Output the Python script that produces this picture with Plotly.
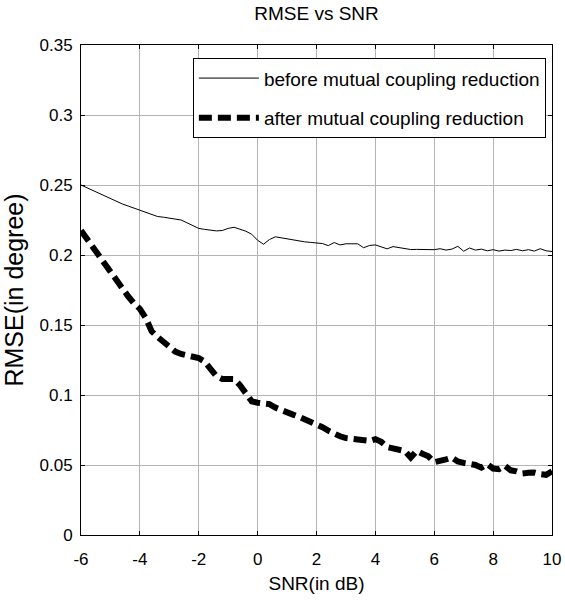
import plotly.graph_objects as go

snr = [round(-6 + 0.2 * i, 1) for i in range(81)]

rmse_before = [
    0.2500, 0.2480, 0.2460, 0.2440, 0.2420, 0.2400, 0.2380, 0.2365, 0.2350, 0.2335,
    0.2320, 0.2305, 0.2285, 0.2275, 0.2270, 0.2262, 0.2256, 0.2250, 0.2230, 0.2210,
    0.2190, 0.2183, 0.2178, 0.2172, 0.2175, 0.2190, 0.2198, 0.2185, 0.2170, 0.2148,
    0.2105, 0.2077, 0.2110, 0.2130, 0.2122, 0.2115, 0.2105, 0.2098, 0.2094, 0.2090,
    0.2085, 0.2082, 0.2067, 0.2089, 0.2072, 0.2080, 0.2080, 0.2080, 0.2052, 0.2068,
    0.2072, 0.2058, 0.2044, 0.2060, 0.2052, 0.2045, 0.2039, 0.2040, 0.2039, 0.2040,
    0.2038, 0.2045, 0.2035, 0.2042, 0.2062, 0.2027, 0.2050, 0.2035, 0.2042, 0.2030,
    0.2038, 0.2028, 0.2035, 0.2032, 0.2040, 0.2030, 0.2038, 0.2028, 0.2045, 0.2030,
    0.2025,
]

rmse_after = [
    0.2175, 0.2115, 0.2050, 0.1990, 0.1930, 0.1876, 0.1820, 0.1760, 0.1705, 0.1655,
    0.1615, 0.1550, 0.1455, 0.1415, 0.1380, 0.1345, 0.1310, 0.1293, 0.1280, 0.1272,
    0.1264, 0.1238, 0.1190, 0.1135, 0.1115, 0.1112, 0.1114, 0.1070, 0.1010, 0.0955,
    0.0945, 0.0942, 0.0935, 0.0910, 0.0890, 0.0875, 0.0860, 0.0845, 0.0828, 0.0812,
    0.0790, 0.0770, 0.0745, 0.0722, 0.0705, 0.0692, 0.0685, 0.0680, 0.0675, 0.0672,
    0.0685, 0.0665, 0.0628, 0.0620, 0.0615, 0.0600, 0.0553, 0.0601, 0.0580, 0.0562,
    0.0520, 0.0527, 0.0540, 0.0553, 0.0525, 0.0515, 0.0512, 0.0500, 0.0481, 0.0506,
    0.0475, 0.0470, 0.0494, 0.0462, 0.0455, 0.0440, 0.0445, 0.0446, 0.0435, 0.0430,
    0.0455,
]

x_ticks = [-6, -4, -2, 0, 2, 4, 6, 8, 10]
x_tick_labels = ["-6", "-4", "-2", "0", "2", "4", "6", "8", "10"]
y_ticks = [0, 0.05, 0.1, 0.15, 0.2, 0.25, 0.3, 0.35]
y_tick_labels = ["0", "0.05", "0.1", "0.15", "0.2", "0.25", "0.3", "0.35"]

FONT = "Liberation Sans, Arial, sans-serif"

fig = go.Figure()
fig.add_trace(go.Scatter(
    x=snr, y=rmse_before, mode="lines",
    name="before mutual coupling reduction", legendgroup="a",
    line=dict(color="black", width=1),
))
fig.add_trace(go.Scatter(
    x=snr, y=rmse_after, mode="lines",
    name="after mutual coupling reduction", legendgroup="b",
    line=dict(color="black", width=6, dash="13px,6px"),
))

axis_common = dict(
    showline=True, linecolor="black", linewidth=1, mirror="ticks",
    ticks="inside", ticklen=4, tickcolor="black",
    showgrid=True, gridcolor="#b4b4b4", gridwidth=1,
    zeroline=False, automargin=False,
    tickfont=dict(family=FONT, size=17, color="black"),
)

fig.update_xaxes(
    range=[-6, 10], tickvals=x_ticks, ticktext=x_tick_labels,
    ticklabelstandoff=9,
    title=dict(text="SNR(in dB)", font=dict(family=FONT, size=19, color="black"), standoff=8),
    **axis_common,
)
fig.update_yaxes(
    range=[0, 0.35], tickvals=y_ticks, ticktext=y_tick_labels,
    ticklabelstandoff=4,
    title=dict(text="RMSE(in degree)", font=dict(family=FONT, size=25, color="black"), standoff=8),
    **axis_common,
)

fig.update_layout(
    width=565, height=611,
    margin=dict(l=81, r=13, t=45, b=76),
    paper_bgcolor="white", plot_bgcolor="white",
    title=dict(text="RMSE vs SNR", x=0.5, xanchor="center", xref="paper",
               y=1 - 13 / 611, yanchor="middle", automargin=False,
               font=dict(family=FONT, size=19, color="black")),
    font=dict(family=FONT, color="black"),
    showlegend=True,
    legend=dict(
        x=0.987, y=0.973, xanchor="right", yanchor="top",
        bordercolor="black", borderwidth=1, bgcolor="white",
        font=dict(family=FONT, size=19, color="black"),
        tracegroupgap=12, itemwidth=60,
    ),
)

fig.write_html("out.html")
